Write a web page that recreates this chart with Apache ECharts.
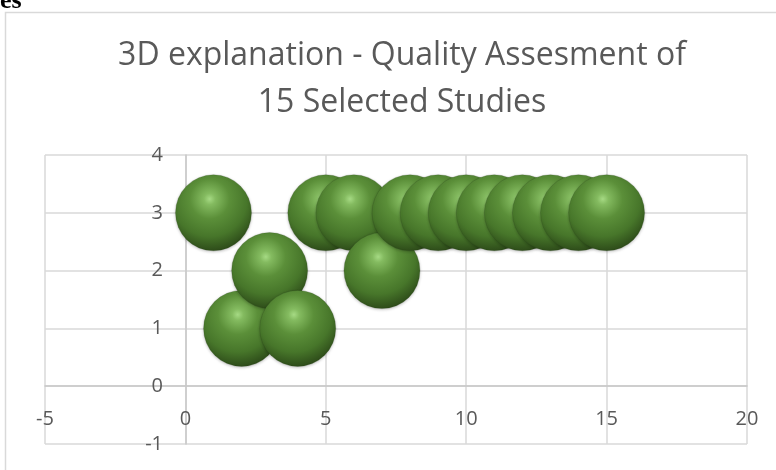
<!DOCTYPE html>
<html>
<head>
<meta charset="utf-8">
<script src="https://cdn.jsdelivr.net/npm/echarts@6/dist/echarts.min.js"></script>
<style>
  html, body { margin: 0; padding: 0; background: #fff; }
  #chart { width: 776px; height: 470px; }
</style>
</head>
<body>
<div id="chart"></div>
<script>
// Study index (x), quality score (y) and bubble size for each of the 15 studies
const studyIds = [1, 2, 3, 4, 5, 6, 7, 8, 9, 10, 11, 12, 13, 14, 15];
const qualityScores = [3, 1, 2, 1, 3, 3, 2, 3, 3, 3, 3, 3, 3, 3, 3];
const bubbleSizes = [1, 1, 1, 1, 1, 1, 1, 1, 1, 1, 1, 1, 1, 1, 1];

const xTicks = [-5, 0, 5, 10, 15, 20];
const yTicks = [-1, 0, 1, 2, 3, 4];

const titleLines = ['3D explanation - Quality Assesment of', '15 Selected Studies'];

const points = studyIds.map((id, i) => [id, qualityScores[i], bubbleSizes[i]]);

// Shaded sphere look for each bubble
const sphereFill = new echarts.graphic.RadialGradient(0.45, 0.32, 0.74, [
  { offset: 0, color: '#a6da84' },
  { offset: 0.1, color: '#84bb60' },
  { offset: 0.35, color: '#5b8f39' },
  { offset: 0.66, color: '#47762a' },
  { offset: 0.86, color: '#33551d' },
  { offset: 1, color: '#283f16' }
]);

const chart = echarts.init(document.getElementById('chart'), null, { renderer: 'canvas' });

const labelFont = {
  color: '#595959',
  fontFamily: 'Open Sans',
  fontSize: 20
};

chart.setOption({
  animation: false,
  backgroundColor: '#ffffff',
  title: {
    text: titleLines.join('\n'),
    left: 397,
    textAlign: 'center',
    top: 27,
    textStyle: {
      color: '#595959',
      fontFamily: 'Open Sans',
      fontWeight: 'normal',
      fontSize: 32,
      lineHeight: 47
    }
  },
  graphic: [
    {
      type: 'rect',
      silent: true,
      shape: { x: 5.5, y: 12.5, width: 820, height: 520 },
      style: { fill: 'none', stroke: '#d9d9d9', lineWidth: 1.5 }
    },
    {
      type: 'text',
      silent: true,
      left: 0,
      top: -12,
      style: {
        text: 'es',
        fill: '#000',
        font: 'bold 26px "Liberation Serif"'
      }
    }
  ],
  grid: {
    left: 45,
    right: 29,
    top: 155,
    bottom: 26,
    outerBoundsMode: 'none',
    containLabel: false
  },
  xAxis: {
    type: 'value',
    min: xTicks[0],
    max: xTicks[xTicks.length - 1],
    interval: 5,
    axisLine: { onZero: true, lineStyle: { color: '#c8c8c8', width: 1.5 } },
    axisTick: { show: false },
    // labels sit just under the zero line
    axisLabel: Object.assign({ margin: -35 }, labelFont),
    splitLine: { show: true, lineStyle: { color: '#d9d9d9', width: 1.5 } }
  },
  yAxis: {
    type: 'value',
    min: yTicks[0],
    max: yTicks[yTicks.length - 1],
    interval: 1,
    axisLine: { show: true, onZero: true, lineStyle: { color: '#c8c8c8', width: 1.5 } },
    axisTick: { show: false },
    // labels sit just left of the vertical zero line
    axisLabel: Object.assign({ margin: -118 }, labelFont),
    splitLine: { show: true, lineStyle: { color: '#d9d9d9', width: 1.5 } }
  },
  series: [
    {
      type: 'scatter',
      data: points,
      symbol: 'circle',
      symbolSize: function (val) { return 76 * Math.sqrt(val[2]); },
      itemStyle: {
        color: sphereFill,
        opacity: 1,
        borderColor: 'rgba(40,66,22,0.35)',
        borderWidth: 0.6,
        shadowColor: 'rgba(0,0,0,0.25)',
        shadowBlur: 3,
        shadowOffsetY: 1
      },
      emphasis: { disabled: true }
    }
  ]
});
</script>
</body>
</html>
